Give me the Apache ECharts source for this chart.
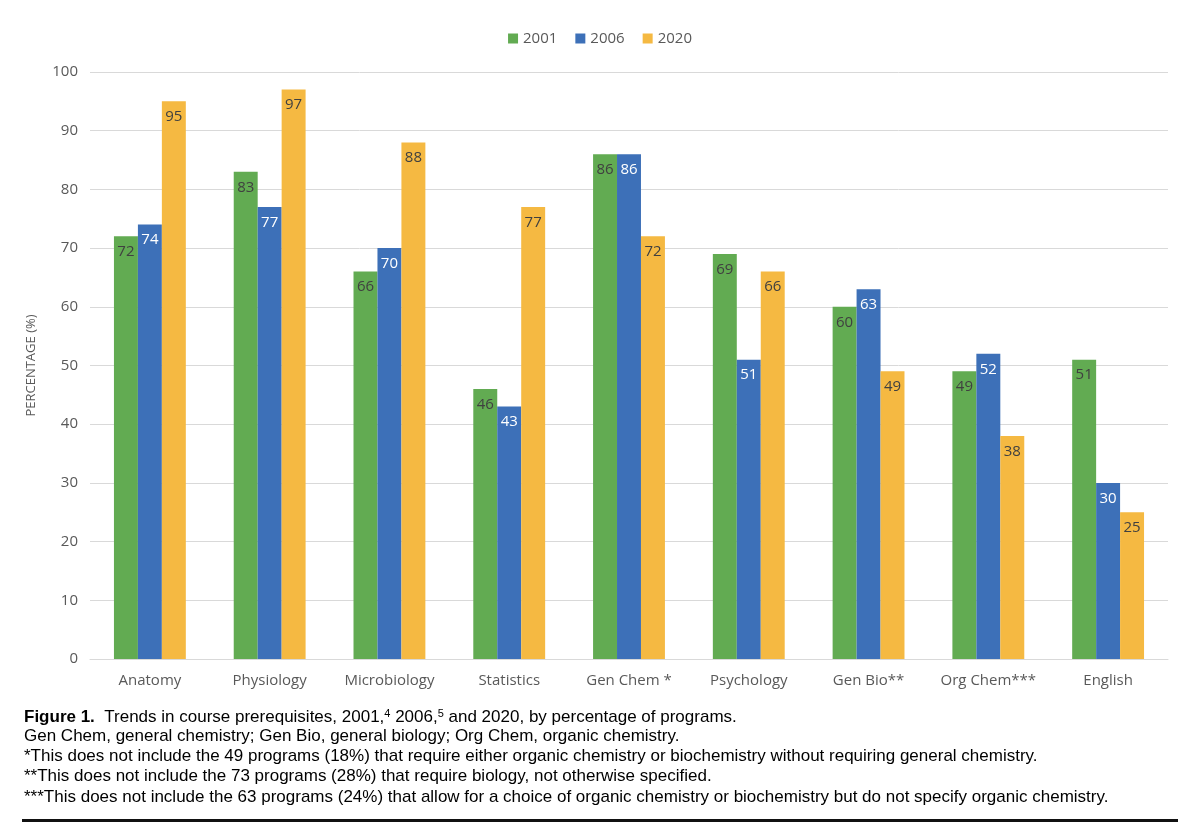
<!DOCTYPE html>
<html>
<head>
<meta charset="UTF-8">
<title>Course prerequisites</title>
<script type="text/javascript" src="https://cdn.jsdelivr.net/npm/echarts@6/dist/echarts.min.js"></script>
<style>
  html, body { margin: 0; padding: 0; background: #fff; }
</style>
</head>
<body>
    <div id="main" style="width: 1200px;height:830px;"></div>
    <script type="text/javascript">
    var categories = ['Anatomy', 'Physiology', 'Microbiology', 'Statistics', 'Gen Chem *', 'Psychology', 'Gen Bio**', 'Org Chem***', 'English'];
    var years = ['2001', '2006', '2020'];
    var v2001 = [72, 83, 66, 46, 86, 69, 60, 49, 51];
    var v2006 = [74, 77, 70, 43, 86, 51, 63, 52, 30];
    var v2020 = [95, 97, 88, 77, 72, 66, 49, 38, 25];
    var yTicks = [0, 10, 20, 30, 40, 50, 60, 70, 80, 90, 100];

    var colors = ['#62ab52', '#3d70b8', '#f5b942'];
    var labelColors = ['#404040', '#ffffff', '#404040'];
    var font = 'Open Sans, sans-serif';
    var capFont = 'Liberation Sans, Arial, sans-serif';

    function barSeries(i, data) {
        return {
            name: years[i],
            type: 'bar',
            data: data,
            barGap: '0%',
            barCategoryGap: '40%',
            itemStyle: { color: colors[i] },
            label: {
                show: true,
                position: 'insideTop',
                distance: 8,
                color: labelColors[i],
                fontFamily: font,
                fontSize: 15
            }
        };
    }

    function capLine(top, text) {
        return {
            type: 'text', left: 24, top: top,
            style: { text: text, fontFamily: capFont, fontSize: 17, fill: '#000' }
        };
    }

    var myChart = echarts.init(document.getElementById('main'));
    var option = {
        animation: false,
        color: colors,
        legend: {
            data: years,
            top: 26,
            left: 'center',
            itemWidth: 10,
            itemHeight: 10,
            itemGap: 18,
            icon: 'rect',
            textStyle: { color: '#595959', fontFamily: font, fontSize: 15 }
        },
        grid: { left: 90, right: 32, top: 72, bottom: 171 },
        xAxis: {
            type: 'category',
            data: categories,
            axisTick: { show: false },
            axisLine: { lineStyle: { color: '#d9d9d9', width: 1 } },
            axisLabel: { interval: 0, color: '#595959', fontFamily: font, fontSize: 15, margin: 14 }
        },
        yAxis: {
            type: 'value',
            min: yTicks[0],
            max: yTicks[yTicks.length - 1],
            interval: 10,
            name: 'PERCENTAGE (%)',
            nameLocation: 'middle',
            nameGap: 52,
            nameRotate: 90,
            nameTextStyle: { color: '#595959', fontFamily: font, fontSize: 13 },
            axisLine: { show: false },
            axisTick: { show: false },
            axisLabel: { color: '#595959', fontFamily: font, fontSize: 15, margin: 12 },
            splitLine: { lineStyle: { color: '#d9d9d9', width: 1 } }
        },
        series: [barSeries(0, v2001), barSeries(1, v2006), barSeries(2, v2020)],
        graphic: [
            {
                type: 'text', left: 24, top: 708,
                style: {
                    text: '{b|Figure 1.}  Trends in course prerequisites, 2001,{s|4} 2006,{s|5} and 2020, by percentage of programs.',
                    rich: {
                        b: { fontWeight: 'bold', fontFamily: capFont, fontSize: 17, fill: '#000' },
                        s: { fontSize: 11, verticalAlign: 'top', fontFamily: capFont, fill: '#000', padding: [0, 0, 8, 0] }
                    },
                    fontFamily: capFont, fontSize: 17, fill: '#000'
                }
            },
            capLine(728, 'Gen Chem, general chemistry; Gen Bio, general biology; Org Chem, organic chemistry.'),
            capLine(748, '*This does not include the 49 programs (18%) that require either organic chemistry or biochemistry without requiring general chemistry.'),
            capLine(768, '**This does not include the 73 programs (28%) that require biology, not otherwise specified.'),
            capLine(789, '***This does not include the 63 programs (24%) that allow for a choice of organic chemistry or biochemistry but do not specify organic chemistry.'),
            {
                type: 'rect',
                shape: { x: 22, y: 819, width: 1156, height: 3 },
                style: { fill: '#111' }
            }
        ]
    };
    myChart.setOption(option);
    </script>
</body>
</html>
